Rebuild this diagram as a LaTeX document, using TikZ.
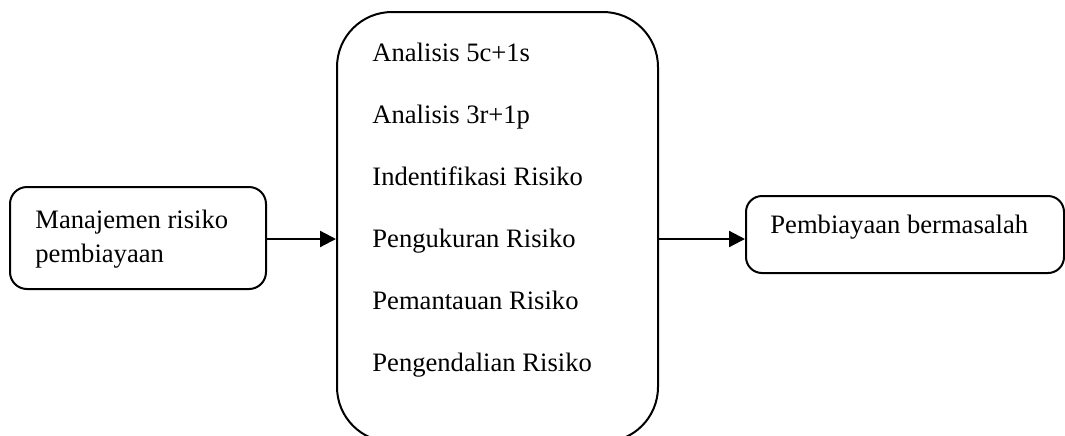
\documentclass[tikz,border=0pt]{standalone}
\usepackage{fontspec}
\setmainfont{Liberation Serif}
\usetikzlibrary{arrows.meta}
\begin{document}
\begin{tikzpicture}[x=0.5pt,y=-0.5pt,
  box/.style={draw=black,line width=1pt,rectangle,inner sep=0pt},
  lbl/.style={anchor=base west,inner sep=0pt,font=\fontsize{13.3}{16}\selectfont},
  arr/.style={line width=1.1pt,-{Triangle[length=8pt,width=8pt]}}]
\useasboundingbox (0,0) rectangle (1065,435);
\clip (0,0) rectangle (1065,435);
\node[box,rounded corners=8.5pt,minimum width=128pt,minimum height=51pt] (left) at (138,238) {};
\node[box,rounded corners=27.5pt,minimum width=160.5pt,minimum height=215pt] (mid) at (497.5,227) {};
\node[box,rounded corners=8pt,minimum width=159pt,minimum height=38.5pt] (right) at (905,234.5) {};
\node[lbl] (l1) at (35,228) {Manajemen risiko};
\node[lbl] (l2) at (35,262) {pembiayaan};
\node[lbl] (t1) at (372,61) {Analisis 5c+1s};
\node[lbl] (t2) at (372,123) {Analisis 3r+1p};
\node[lbl] (t3) at (372,185) {Indentifikasi Risiko};
\node[lbl] (t4) at (372,247) {Pengukuran Risiko};
\node[lbl] (t5) at (372,309) {Pemantauan Risiko};
\node[lbl] (t6) at (372,371) {Pengendalian Risiko};
\node[lbl] (r1) at (770,233) {Pembiayaan bermasalah};
\coordinate (ay) at (0,239);
\draw[arr] (left.east |- ay) -- (mid.west |- ay);
\draw[arr] (mid.east |- ay) -- (right.west |- ay);
\end{tikzpicture}
\end{document}
